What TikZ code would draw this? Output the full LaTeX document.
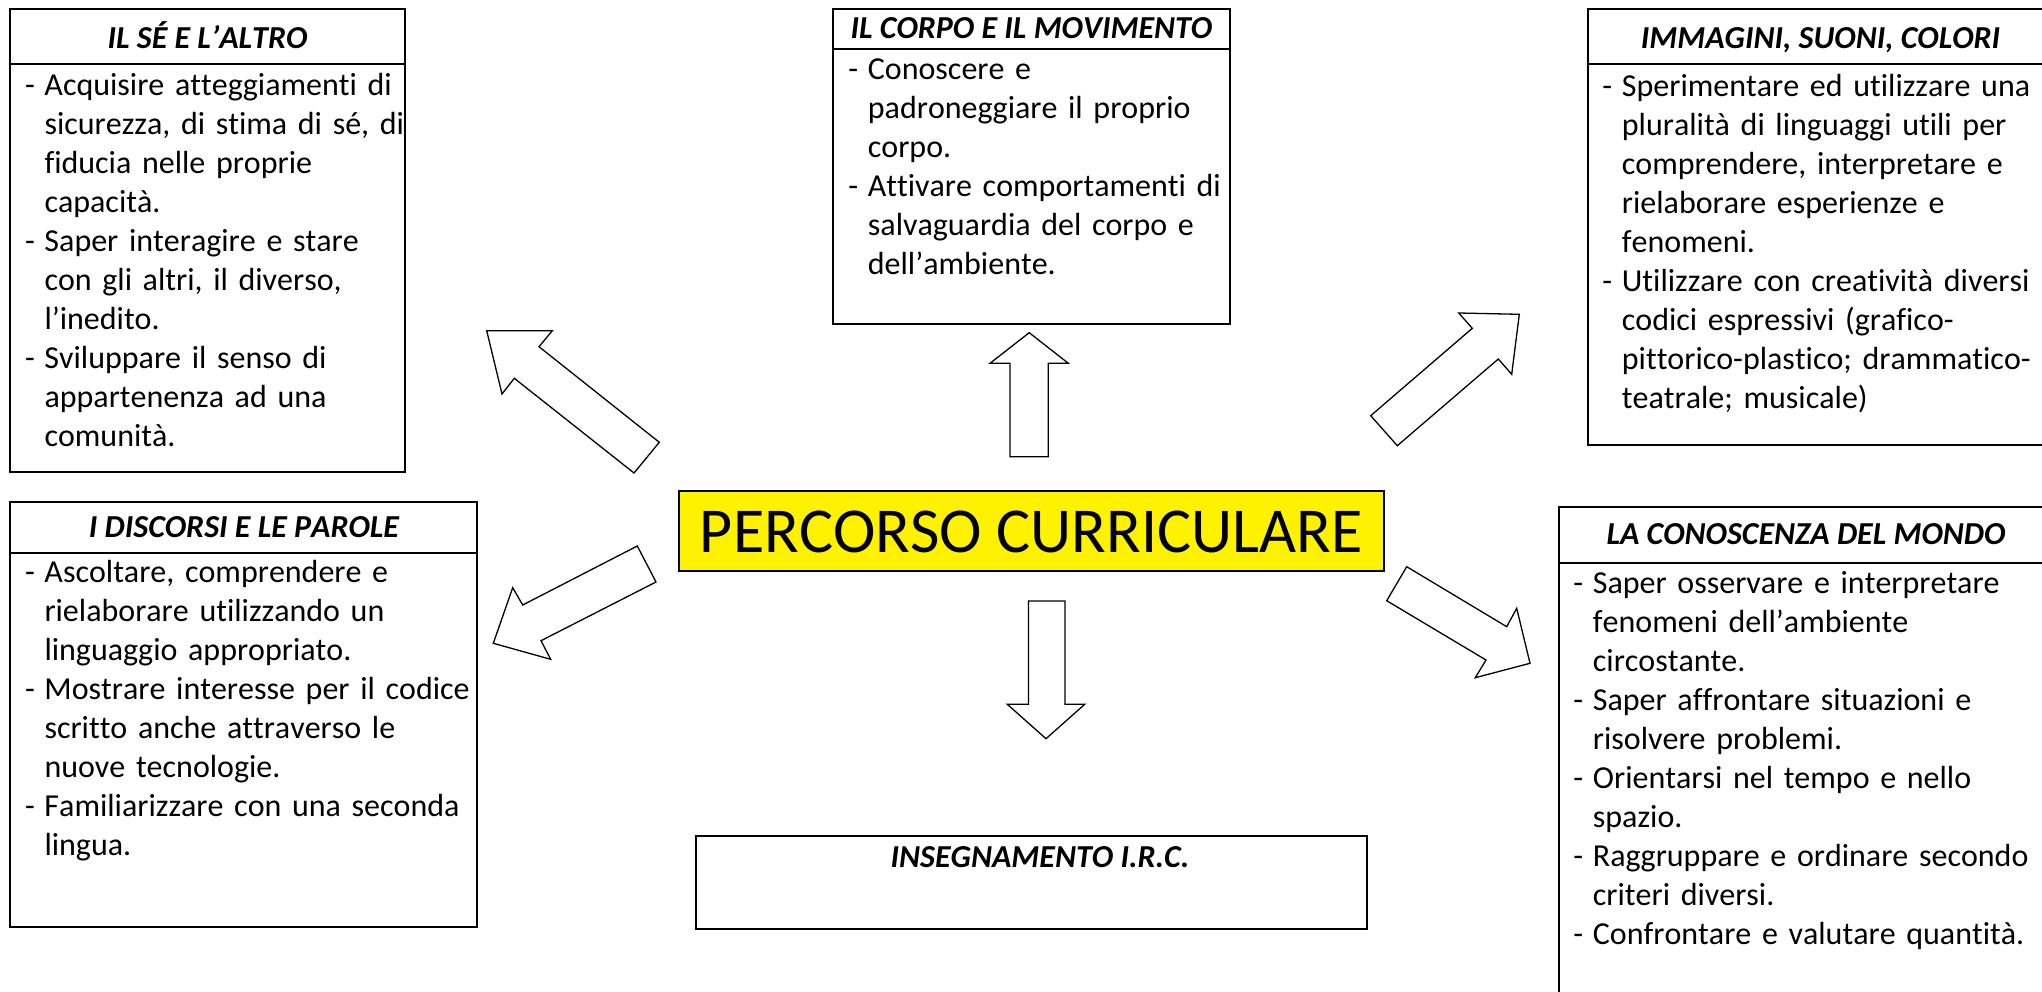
\documentclass[tikz,border=0pt]{standalone}
\usepackage{fontspec}
\setmainfont{Carlito}[Ligatures={NoCommon}, Kerning=Off]
\newcommand{\mydash}{\makebox[19.5pt][l]{-}}
\newcommand{\myind}{\hspace*{19.5pt}}
\begin{document}
\begin{tikzpicture}[x=1pt,y=-1pt,
  box/.style={draw=black, line width=2pt, inner sep=0pt, outer sep=0pt},
  hline/.style={draw=black, line width=2pt},
  head/.style={font=\fontsize{32}{39}\selectfont\bfseries\itshape, inner sep=0pt, anchor=base},
  body/.style={font=\fontsize{32}{39}\selectfont, inner sep=0pt, anchor=base west, text width=480pt, align=left},
  barrow/.style={draw=black, line width=1.3pt, fill=white, line join=miter},
]
\clip (0,0) rectangle (2042,992);
\fill[white] (0,0) rectangle (2042,992);

% ---------- IL SE E L'ALTRO ----------
\node[box, minimum width=395pt, minimum height=462.5pt, anchor=north west] (se) at (10,9) {};
\draw[hline] (10,64) -- (405,64);
\node[head] (seh) at (207.5,48.3) {IL SÉ E L’ALTRO};
\node[body] (seb) at (24.8,96) {%
\mydash Acquisire atteggiamenti di\\
\myind sicurezza, di stima di sé, di\\
\myind fiducia nelle proprie\\
\myind capacità.\\
\mydash Saper interagire e stare\\
\myind con gli altri, il diverso,\\
\myind l’inedito.\\
\mydash Sviluppare il senso di\\
\myind appartenenza ad una\\
\myind comunità.};

% ---------- IL CORPO E IL MOVIMENTO ----------
\node[box, minimum width=397.5pt, minimum height=314.5pt, anchor=north west] (corpo) at (832.5,9) {};
\draw[hline] (832.5,49.3) -- (1230,49.3);
\node[head] (corpoh) at (1031.5,39) {IL CORPO E IL MOVIMENTO};
\node[body] (corpob) at (848.2,79.5) {%
\mydash Conoscere e\\
\myind padroneggiare il proprio\\
\myind corpo.\\
\mydash Attivare comportamenti di\\
\myind salvaguardia del corpo e\\
\myind dell’ambiente.};

% ---------- IMMAGINI, SUONI, COLORI ----------
\node[box, minimum width=472.5pt, minimum height=436pt, anchor=north west] (imm) at (1587.5,9) {};
\draw[hline] (1587.5,64) -- (2060,64);
\node[head] (immh) at (1820.5,48.3) {IMMAGINI, SUONI, COLORI};
\node[body] (immb) at (1602.2,97) {%
\mydash Sperimentare ed utilizzare una\\
\myind pluralità di linguaggi utili per\\
\myind comprendere, interpretare e\\
\myind rielaborare esperienze e\\
\myind fenomeni.\\
\mydash Utilizzare con creatività diversi\\
\myind codici espressivi (grafico-\\
\myind pittorico-plastico; drammatico-\\
\myind teatrale; musicale)};

% ---------- I DISCORSI E LE PAROLE ----------
\node[box, minimum width=467pt, minimum height=425.5pt, anchor=north west] (disc) at (10,501.5) {};
\draw[hline] (10,552.5) -- (477,552.5);
\node[head] (disch) at (244,537.3) {I DISCORSI E LE PAROLE};
\node[body] (discb) at (24.8,582.5) {%
\mydash Ascoltare, comprendere e\\
\myind rielaborare utilizzando un\\
\myind linguaggio appropriato.\\
\mydash Mostrare interesse per il codice\\
\myind scritto anche attraverso le\\
\myind nuove tecnologie.\\
\mydash Familiarizzare con una seconda\\
\myind lingua.};

% ---------- LA CONOSCENZA DEL MONDO ----------
\node[box, minimum width=501.5pt, minimum height=503.5pt, anchor=north west] (con) at (1558.5,506.5) {};
\draw[hline] (1558.5,563) -- (2060,563);
\node[head] (conh) at (1806,544.3) {LA CONOSCENZA DEL MONDO};
\node[body] (conb) at (1573.2,593.5) {%
\mydash Saper osservare e interpretare\\
\myind fenomeni dell’ambiente\\
\myind circostante.\\
\mydash Saper affrontare situazioni e\\
\myind risolvere problemi.\\
\mydash Orientarsi nel tempo e nello\\
\myind spazio.\\
\mydash Raggruppare e ordinare secondo\\
\myind criteri diversi.\\
\mydash Confrontare e valutare quantità.};

% ---------- PERCORSO CURRICULARE ----------
\node[box, fill=yellow, minimum width=705.5pt, minimum height=80pt, anchor=north west] (perc) at (678.5,491) {};
\node[font=\fontsize{64}{77}\selectfont, inner sep=0pt, anchor=base] (perct) at (1031.2,552.3) {PERCORSO CURRICULARE};

% ---------- INSEGNAMENTO I.R.C. ----------
\node[box, minimum width=671pt, minimum height=93.5pt, anchor=north west] (irc) at (696,835.5) {};
\node[head] (irch) at (1040,867.3) {INSEGNAMENTO I.R.C.};

% ---------- block arrows ----------
% up
\draw[barrow] (1010,456.7) -- (1010,363.3) -- (990,363.3) -- (1029.2,332.7) -- (1068.3,363.3)
  -- (1048.3,363.3) -- (1048.3,456.7) -- cycle;
% down
\draw[barrow] (1028.5,601) -- (1065,601) -- (1065,704.3) -- (1084.7,704.3) -- (1046,738.7)
  -- (1007.3,704.3) -- (1028.5,704.3) -- cycle;
% upper left
\draw[barrow] (659.3,442.3) -- (539,346.7) -- (552.3,330.7) -- (486.7,330.7) -- (502,394)
  -- (514.3,378.3) -- (634,473) -- cycle;
% lower left
\draw[barrow] (637.3,546) -- (522.7,605) -- (512.7,587.7) -- (493.3,643.3) -- (550.7,659.3)
  -- (541,640.7) -- (656,582) -- cycle;
% upper right
\draw[barrow] (1370.7,415.7) -- (1472.3,328.3) -- (1458.7,313) -- (1519.3,314.3) -- (1511.7,374.3)
  -- (1498.3,359) -- (1397.3,445.7) -- cycle;
% lower right
\draw[barrow] (1406.7,566.7) -- (1506.7,626.7) -- (1516.7,608.3) -- (1530,663.3) -- (1475.3,677.7)
  -- (1486,660) -- (1386.7,600.7) -- cycle;
\end{tikzpicture}
\end{document}
